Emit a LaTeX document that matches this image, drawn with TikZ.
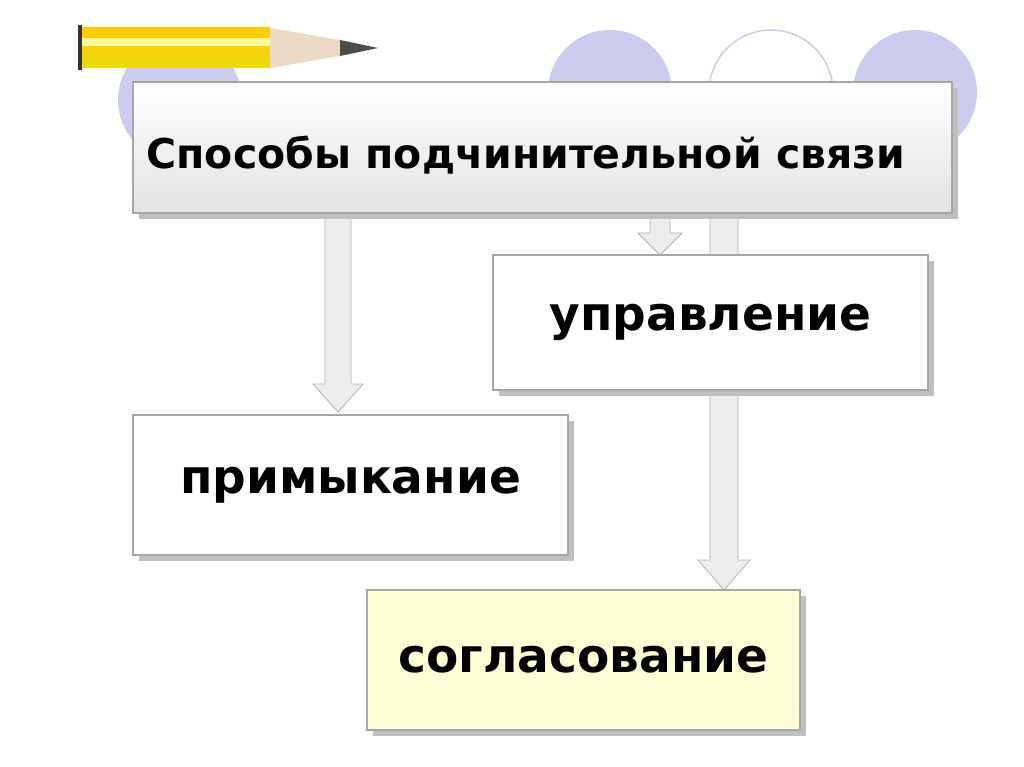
\documentclass[tikz,border=0pt]{standalone}
\usepackage{fontspec}
\setmainfont{DejaVu Sans}
\usetikzlibrary{calc}
\definecolor{lav}{RGB}{204,204,238}
\definecolor{boxy}{RGB}{255,255,215}
\tikzset{
  bx/.style={draw=gray!70, line width=1.2pt, inner sep=0pt, font=\bfseries},
  shaft/.style={fill=gray!14, draw=gray!60, line width=0.8pt},
  big/.style={font=\bfseries\fontsize{47}{52}\selectfont},
}
\begin{document}
\begin{tikzpicture}[x=1pt,y=-1pt]
\useasboundingbox (0,0) rectangle (1024,767);
\fill[white] (0,0) rectangle (1024,767);
% circles
\fill[lav] (180,100) circle (62);
\fill[lav] (610,92) circle (62);
\draw[lav,line width=1.5pt,fill=white] (771,92) circle (62);
\fill[lav] (915,92) circle (62);
% pencil
\fill[black!80] (78,25) rectangle (82,70);
\shade[top color=yellow!60!orange, bottom color=yellow!70!brown] (82,28) rectangle (270,68);
\fill[yellow!40] (82,38) rectangle (270,46);
\fill[brown!30] (270,28) -- (340,40) -- (340,56) -- (270,68) -- cycle;
\fill[black!70] (340,40) -- (378,48) -- (340,56) -- cycle;
% arrows (shafts)
\node[coordinate] (a1t) at (338,214) {};
\node[coordinate] (a1b) at (338,412) {};
\node[coordinate] (a2t) at (660,214) {};
\node[coordinate] (a2b) at (660,255) {};
\node[coordinate] (a3t) at (724,214) {};
\node[coordinate] (a3b) at (724,590) {};
\filldraw[shaft] ($(a1t)+(-13,0)$) -- ($(a1b)+(-13,-28)$) -- ($(a1b)+(-25,-28)$) -- (a1b) -- ($(a1b)+(25,-28)$) -- ($(a1b)+(13,-28)$) -- ($(a1t)+(13,0)$) -- cycle;
\filldraw[shaft] ($(a2t)+(-10,0)$) -- ($(a2b)+(-10,-22)$) -- ($(a2b)+(-22,-22)$) -- (a2b) -- ($(a2b)+(22,-22)$) -- ($(a2b)+(10,-22)$) -- ($(a2t)+(10,0)$) -- cycle;
\filldraw[shaft] ($(a3t)+(-14,0)$) -- ($(a3b)+(-14,-30)$) -- ($(a3b)+(-26,-30)$) -- (a3b) -- ($(a3b)+(26,-30)$) -- ($(a3b)+(14,-30)$) -- ($(a3t)+(14,0)$) -- cycle;
% boxes
\fill[gray!50] (139,88) rectangle (958,219);
\node[bx, minimum width=819pt, minimum height=131pt, top color=white, bottom color=gray!22] (title) at (542.5,147.5) {};
\node[font=\bfseries\fontsize{41}{46}\selectfont, anchor=west] at (143,155) {Способы подчинительной связи};
\fill[gray!50] (499,261) rectangle (934,396);
\node[bx, minimum width=435pt, minimum height=135pt, fill=white, big] (upr) at (710.5,322.5) {управление};
\fill[gray!50] (139,421) rectangle (574,561);
\node[bx, minimum width=435pt, minimum height=140pt, fill=white, big] (prim) at (350.5,485) {примыкание};
\fill[gray!50] (373,596) rectangle (806,736);
\node[bx, minimum width=433pt, minimum height=140pt, fill=boxy, big] (sogl) at (583.5,660) {согласование};
\end{tikzpicture}
\end{document}
